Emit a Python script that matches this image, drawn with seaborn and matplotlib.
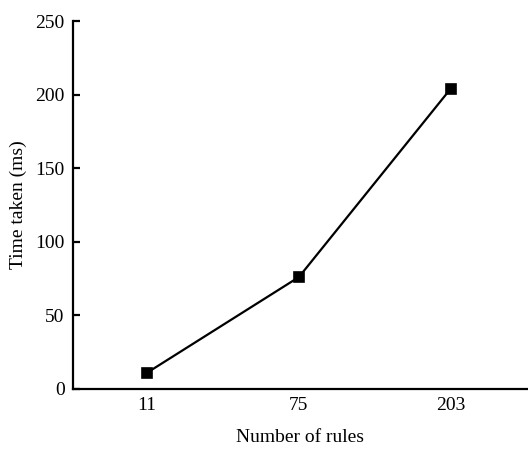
import matplotlib
matplotlib.use("Agg")
import matplotlib.pyplot as plt
import seaborn as sns

# data
rules = ["11", "75", "203"]
time_ms = [11, 76, 204]
y_ticks = [0, 50, 100, 150, 200, 250]

sns.set_style("white")
plt.rcParams["font.family"] = ["Liberation Serif", "DejaVu Serif"]
plt.rcParams["text.color"] = "black"
plt.rcParams["axes.labelcolor"] = "black"
plt.rcParams["xtick.color"] = "black"
plt.rcParams["ytick.color"] = "black"

fig = plt.figure(figsize=(5.28, 4.49), dpi=100)
ax = fig.add_axes([0.138, 0.134, 0.862, 0.819])

sns.pointplot(x=rules, y=time_ms, color="black", markers="s",
              markersize=7, linewidth=1.6, ax=ax)

ax.set_xlim(-0.49, 2.51)
ax.set_ylim(0, 250)
ax.set_yticks(y_ticks)
ax.set_xlabel("Number of rules", fontsize=14, labelpad=11)
ax.set_ylabel("Time taken (ms)", fontsize=14, labelpad=6)

sns.despine(ax=ax)
for side in ["left", "bottom"]:
    ax.spines[side].set_linewidth(1.6)
    ax.spines[side].set_color("black")

ax.tick_params(axis="y", direction="in", length=5, width=1.6, labelsize=14, pad=6, left=True)
ax.tick_params(axis="x", length=0, labelsize=14, pad=6)

fig.savefig("out.png", dpi=100)
